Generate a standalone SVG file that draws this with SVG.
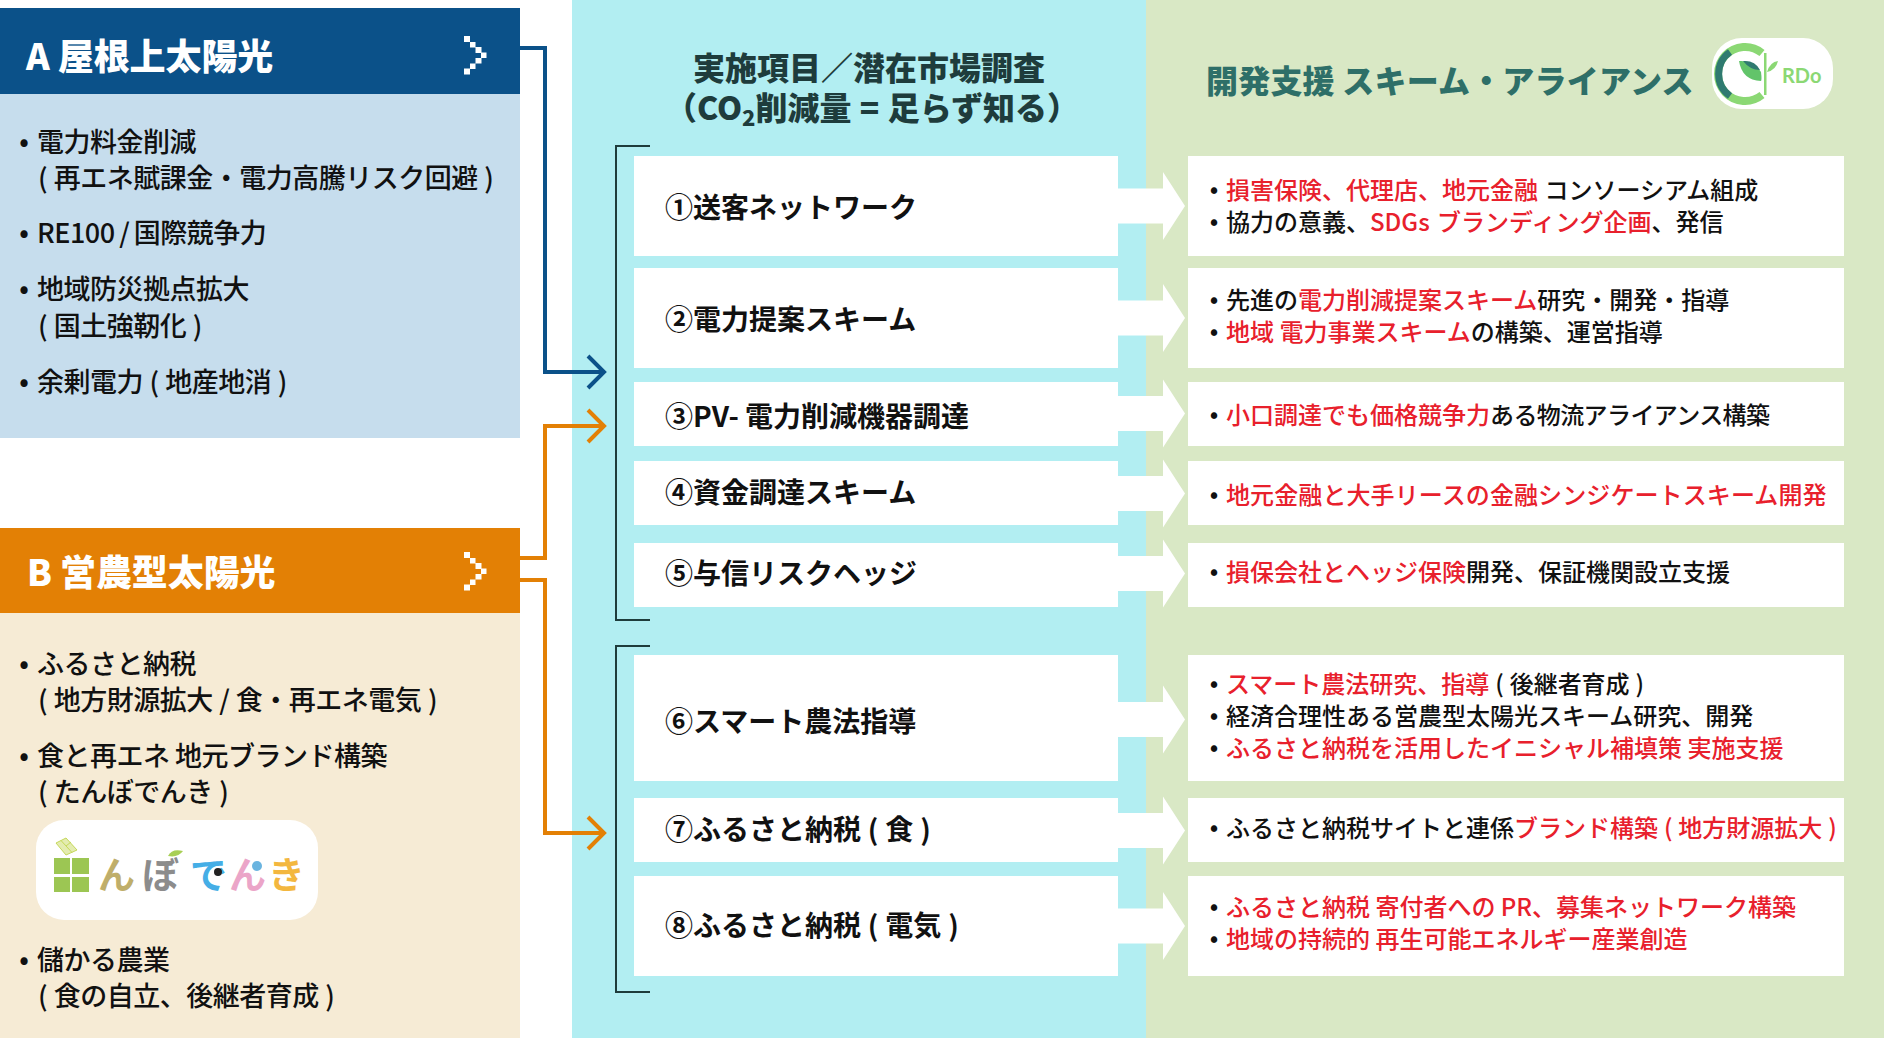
<svg xmlns="http://www.w3.org/2000/svg" width="1884" height="1038" viewBox="0 0 1884 1038">
<style>
text{font-family:"Noto Sans CJK JP","Noto Sans",sans-serif}
.hd{font-size:36px;font-weight:900;fill:#fff;letter-spacing:-.1px}
.li{font-size:27px;font-weight:500;fill:#111;letter-spacing:-.5px}
.pa{word-spacing:1px}
.bu{font-size:27px;font-weight:500;fill:#111;text-anchor:middle}
.ti{font-size:32px;font-weight:900;fill:#1e3c3c;text-anchor:middle}
.tr{font-size:32px;font-weight:900;fill:#2e6f68;letter-spacing:.2px}
.lb{font-size:28px;font-weight:700;fill:#111}
.tx{font-size:24px;font-weight:500;fill:#111}
.ws{word-spacing:.5px}
.bs{font-size:24px;font-weight:500;fill:#111;text-anchor:middle}
.r{fill:#e8202c}
.wb{fill:#fff}
.ar{fill:#fff}
.ch{fill:#fff}
.cn{fill:none;stroke-width:4}
.br{fill:none;stroke:#1e3c3c;stroke-width:2}
.lg{font-size:37px;font-weight:700}
</style>
<defs>
<marker id="mb" markerUnits="userSpaceOnUse" markerWidth="24" markerHeight="40" refX="20" refY="20" orient="auto"><path d="M3 4L19 20L3 36" fill="none" stroke="#0b5189" stroke-width="4"/></marker>
<marker id="mo" markerUnits="userSpaceOnUse" markerWidth="24" markerHeight="40" refX="20" refY="20" orient="auto"><path d="M3 4L19 20L3 36" fill="none" stroke="#e38005" stroke-width="4"/></marker>
<path id="chev" class="ch" d="M0 0h6v6H0ZM6 6h5.500v5.500H6ZM11.500 11h6v6h-6ZM17 16.500h5.500v5.500H17ZM11.500 22h6v5.500h-6ZM6 27.500h5.500v5.500H6ZM0 32.500h6v6H0Z"/>
</defs>
<rect width="1884" height="1038" fill="#fff"/>
<rect x="572" y="0" width="574" height="1038" fill="#b2eef2"/>
<rect x="1146" y="0" width="738" height="1038" fill="#d9e8c5"/>

<g id="node-a">
<rect x="0" y="94" width="520" height="344" fill="#c6dded"/>
<rect x="0" y="8" width="520" height="86" fill="#0b5189"/>
<text class="hd" x="26" y="70">A 屋根上太陽光</text>
<use href="#chev" x="464" y="36"/>
<text class="bu" x="24" y="151">•</text><text class="li" x="37" y="152">電力料金削減</text>
<text class="li pa" x="38" y="188">( 再エネ賦課金・電力高騰リスク回避 )</text>
<text class="bu" x="24" y="242">•</text><text class="li" x="37" y="243" style="word-spacing:-1px">RE100 / 国際競争力</text>
<text class="bu" x="24" y="298">•</text><text class="li" x="37" y="299">地域防災拠点拡大</text>
<text class="li pa" x="38" y="336">( 国土強靭化 )</text>
<text class="bu" x="24" y="391">•</text><text class="li pa" x="37" y="392">余剰電力 ( 地産地消 )</text>
</g>

<g id="node-b">
<rect x="0" y="613" width="520" height="425" fill="#f6ebd5"/>
<rect x="0" y="528" width="520" height="85" fill="#e38005"/>
<text class="hd" x="27" y="586">B 営農型太陽光</text>
<use href="#chev" x="464" y="552"/>
<text class="bu" x="24" y="673">•</text><text class="li" x="37" y="674">ふるさと納税</text>
<text class="li pa" x="38" y="710">( 地方財源拡大 / 食・再エネ電気 )</text>
<text class="bu" x="24" y="765">•</text><text class="li" x="37" y="766">食と再エネ 地元ブランド構築</text>
<text class="li pa" x="38" y="802">( たんぼでんき )</text>
<text class="bu" x="24" y="969">•</text><text class="li" x="37" y="970">儲かる農業</text>
<text class="li pa" x="38" y="1006">( 食の自立、後継者育成 )</text>
</g>

<g id="logo-tanbo">
<rect x="36" y="820" width="282" height="100" rx="28" fill="#fff"/>
<rect x="54" y="858" width="16" height="16" fill="#9cc653"/><rect x="72" y="858" width="17" height="16" fill="#9cc653"/>
<rect x="54" y="877" width="16" height="15" fill="#9cc653"/><rect x="72" y="877" width="17" height="15" fill="#9cc653"/>
<path d="M56 843L66 838L77 850L66 855Z" fill="#e4ecb0" stroke="#c5d85a"/>
<path d="M61 840.500L72 852.500M66 846L71 842" stroke="#c5d85a" fill="none"/>
<text class="lg" x="98" y="889" fill="#bfae6a">ん</text>
<text class="lg" x="142" y="889" fill="#8c8c8c">ぼ</text>
<path d="M168 856Q172 848 183 851Q178 858 168 856Z" fill="#a8cf55"/>
<text class="lg" x="190" y="889" fill="#45aee6">で</text>
<circle cx="218" cy="872" r="4" fill="#222"/>
<text class="lg" x="229" y="889" fill="#eba5c8">ん</text>
<circle cx="257" cy="866" r="5" fill="#6ab4e0"/>
<text class="lg" x="268" y="889" fill="#f3b73f">き</text>
</g>

<g id="connectors">
<path class="cn" stroke="#0b5189" d="M520 48H545V372H605" marker-end="url(#mb)"/>
<path class="cn" stroke="#e38005" d="M520 558H545V426H605" marker-end="url(#mo)"/>
<path class="cn" stroke="#e38005" d="M520 580H545V833H605" marker-end="url(#mo)"/>
<path class="br" d="M650 146H616V620H650"/>
<path class="br" d="M650 646H616V992H650"/>
</g>

<g id="title-center">
<text class="ti" x="869" y="80">実施項目／潜在市場調査</text>
<text class="ti" x="872" y="120" style="word-spacing:1px">（CO<tspan font-size="22" dy="6">2</tspan><tspan dy="-6">削減量 = 足らず知る）</tspan></text>
</g>
<g id="title-right">
<text class="tr" x="1206" y="93">開発支援 スキーム・アライアンス</text>
</g>
<g id="logo-rdo">
<rect x="1712" y="38" width="121" height="71" rx="30" fill="#fff"/>
<path d="M1762 53A27 27 0 1 0 1762 95" fill="none" stroke="#8bd874" stroke-width="8"/>
<path d="M1730 52A27 27 0 0 0 1730 96" fill="none" stroke="#2f7a70" stroke-width="7"/>
<rect x="1764" y="53" width="2.500" height="42" fill="#8bd874"/>
<path d="M1739 61Q1755 60 1761 72Q1762 80 1761 81Q1742 80 1739 61Z" fill="#62c46a"/>
<path d="M1743 61Q1755 60 1760 70Q1750 70 1743 61Z" fill="#2f7a70"/>
<path d="M1767 72Q1770 62 1778 61Q1776 70 1767 72Z" fill="#8bd874"/>
<text x="1782" y="83" font-size="20" font-weight="700" fill="#8bd874" style="font-family:Lato,sans-serif">RDo</text>
</g>

<g id="step-1"><rect class="wb" x="634" y="156" width="484" height="100"/><text class="lb" x="665" y="218">①送客ネットワーク</text></g>
<g id="step-2"><rect class="wb" x="634" y="268" width="484" height="100"/><text class="lb" x="665" y="330">②電力提案スキーム</text></g>
<g id="step-3"><rect class="wb" x="634" y="382" width="484" height="64"/><text class="lb" x="665" y="427">③PV- 電力削減機器調達</text></g>
<g id="step-4"><rect class="wb" x="634" y="461" width="484" height="64"/><text class="lb" x="665" y="503">④資金調達スキーム</text></g>
<g id="step-5"><rect class="wb" x="634" y="543" width="484" height="64"/><text class="lb" x="665" y="584">⑤与信リスクヘッジ</text></g>
<g id="step-6"><rect class="wb" x="634" y="655" width="484" height="126"/><text class="lb" x="665" y="732">⑥スマート農法指導</text></g>
<g id="step-7"><rect class="wb" x="634" y="798" width="484" height="64"/><text class="lb ws" x="665" y="840">⑦ふるさと納税 ( 食 )</text></g>
<g id="step-8"><rect class="wb" x="634" y="876" width="484" height="100"/><text class="lb ws" x="665" y="936">⑧ふるさと納税 ( 電気 )</text></g>

<g id="block-arrows">
<path class="ar" d="M1118 188.500H1163V172L1185 206L1163 240V223.500H1118Z"/>
<path class="ar" d="M1118 300.500H1163V284L1185 318L1163 352V335.500H1118Z"/>
<path class="ar" d="M1118 396H1163V379.500L1185 413.500L1163 447.500V431H1118Z"/>
<path class="ar" d="M1118 476H1163V459.500L1185 493.500L1163 527.500V511H1118Z"/>
<path class="ar" d="M1118 556H1163V539.500L1185 573.500L1163 607.500V591H1118Z"/>
<path class="ar" d="M1118 702H1163V685.500L1185 719.500L1163 753.500V737H1118Z"/>
<path class="ar" d="M1118 813H1163V796.500L1185 830.500L1163 864.500V848H1118Z"/>
<path class="ar" d="M1118 908.500H1163V892L1185 926L1163 960V943.500H1118Z"/>
</g>

<g id="detail-1"><rect class="wb" x="1188" y="156" width="656" height="100"/>
<text class="bs" x="1214" y="198">•</text><text class="tx" x="1226" y="199" style="word-spacing:1px"><tspan class="r">損害保険、代理店、地元金融</tspan> コンソーシアム組成</text>
<text class="bs" x="1214" y="230">•</text><text class="tx" x="1226" y="231" style="word-spacing:2px">協力の意義、<tspan class="r">SDGs ブランディング企画</tspan>、発信</text></g>
<g id="detail-2"><rect class="wb" x="1188" y="268" width="656" height="100"/>
<text class="bs" x="1214" y="308">•</text><text class="tx" x="1226" y="309">先進の<tspan class="r">電力削減提案スキーム</tspan>研究・開発・指導</text>
<text class="bs" x="1214" y="340">•</text><text class="tx" x="1226" y="341"><tspan class="r">地域 電力事業スキーム</tspan>の構築、運営指導</text></g>
<g id="detail-3"><rect class="wb" x="1188" y="382" width="656" height="64"/>
<text class="bs" x="1214" y="423">•</text><text class="tx" x="1226" y="424"><tspan class="r">小口調達でも価格競争力</tspan><tspan letter-spacing="-.6">ある物流アライアンス構築</tspan></text></g>
<g id="detail-4"><rect class="wb" x="1188" y="461" width="656" height="64"/>
<text class="bs" x="1214" y="503">•</text><text class="tx r" x="1226" y="504" letter-spacing=".1">地元金融と大手リースの金融シンジケートスキーム開発</text></g>
<g id="detail-5"><rect class="wb" x="1188" y="543" width="656" height="64"/>
<text class="bs" x="1214" y="580">•</text><text class="tx" x="1226" y="581"><tspan class="r">損保会社とヘッジ保険</tspan>開発、保証機関設立支援</text></g>
<g id="detail-6"><rect class="wb" x="1188" y="655" width="656" height="126"/>
<text class="bs" x="1214" y="692">•</text><text class="tx ws" x="1226" y="693"><tspan class="r">スマート農法研究、指導</tspan> ( 後継者育成 )</text>
<text class="bs" x="1214" y="724">•</text><text class="tx" x="1226" y="725">経済合理性ある営農型太陽光スキーム研究、開発</text>
<text class="bs" x="1214" y="756">•</text><text class="tx r" x="1226" y="757">ふるさと納税を活用したイニシャル補填策 実施支援</text></g>
<g id="detail-7"><rect class="wb" x="1188" y="798" width="656" height="64"/>
<text class="bs" x="1214" y="836">•</text><text class="tx ws" x="1226" y="837">ふるさと納税サイトと連係<tspan class="r">ブランド構築 ( 地方財源拡大 )</tspan></text></g>
<g id="detail-8"><rect class="wb" x="1188" y="876" width="656" height="100"/>
<text class="bs" x="1214" y="915">•</text><text class="tx r" x="1226" y="916">ふるさと納税 寄付者への PR、募集ネットワーク構築</text>
<text class="bs" x="1214" y="947">•</text><text class="tx r" x="1226" y="948">地域の持続的 再生可能エネルギー産業創造</text></g>
</svg>
